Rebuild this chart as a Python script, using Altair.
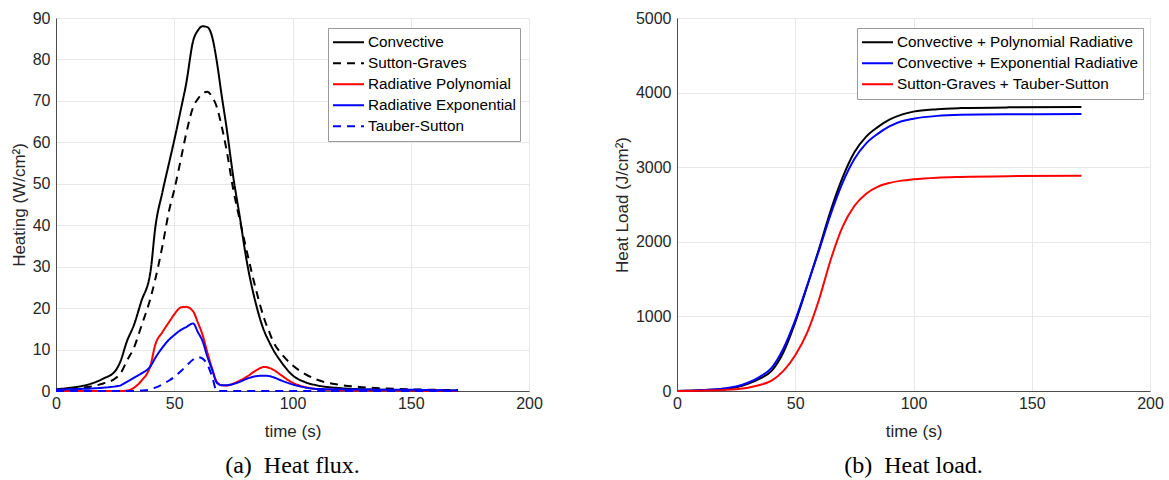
import altair as alt
import pandas as pd

# ---------------- data ----------------
t_flux = [0, 5, 10, 15, 20, 25, 27, 30, 33, 36, 40, 42, 45, 48, 50, 53, 55, 58, 60, 62, 64,
          66, 68, 70, 72, 75, 78, 80, 85, 88, 90, 92, 95, 100, 105, 110, 120, 130, 140, 150, 160, 170]
convective = [0.4, 0.7, 1.1, 1.8, 3.0, 4.8, 6.8, 12.0, 16.0, 21.5, 29.0, 39.5, 48.0, 55.5, 60.5, 68.5, 74.0,
              84.5, 87.0, 88.0, 87.8, 85.5, 79.5, 71.5, 64.0, 51.5, 41.0, 33.5, 20.0, 14.5, 12.0, 9.8, 7.2,
              3.8, 2.2, 1.4, 0.7, 0.4, 0.3, 0.2, 0.15, 0.1]
sutton_graves = [0.2, 0.4, 0.7, 1.1, 1.8, 3.0, 4.0, 7.3, 10.5, 15.5, 22.5, 27.0, 35.0, 44.0, 48.5, 56.5, 62.0,
                 68.5, 70.5, 71.8, 72.2, 71.0, 68.5, 64.0, 58.5, 48.5, 40.5, 35.4, 23.5, 17.5, 14.5, 11.7, 9.2,
                 6.2, 4.2, 2.8, 1.5, 0.9, 0.6, 0.4, 0.3, 0.2]
rad_poly = [0, 0, 0, 0, 0, 0, 0, 0.1, 0.8, 2.4, 6.3, 11.2, 14.2, 16.8, 18.5, 20.2, 20.3, 19.2, 16.5, 13.5,
            9.3, 5.4, 2.2, 1.4, 1.3, 1.8, 2.6, 3.2, 5.1, 5.8, 5.6, 5.1, 3.9, 2.0, 1.0, 0.5, 0.2, 0.1, 0.1,
            0.1, 0.05, 0]
rad_exp = [0.3, 0.4, 0.5, 0.6, 0.8, 1.1, 1.3, 2.2, 3.2, 4.2, 6.0, 8.0, 10.5, 12.5, 13.5, 14.8, 15.4, 16.3,
           14.2, 12.0, 8.3, 5.2, 2.0, 1.4, 1.4, 1.7, 2.3, 2.8, 3.6, 3.7, 3.6, 3.3, 2.6, 1.6, 0.9, 0.5, 0.4,
           0.35, 0.3, 0.3, 0.2, 0.1]
tauber_sutton = [0, 0, 0, 0, 0, 0, 0, 0, 0, 0.1, 0.4, 0.8, 1.6, 2.6, 3.4, 4.9, 6.0, 7.6, 8.2, 7.8, 6.4,
                 3.5, 0, 0, 0, 0, 0, 0, 0, 0, 0, 0, 0, 0, 0, 0, 0, 0, 0, 0, 0, 0]

flux_names = ["Convective", "Sutton-Graves", "Radiative Polynomial", "Radiative Exponential", "Tauber-Sutton"]
flux_colors = ["#000000", "#000000", "#ff0000", "#0000ff", "#0000ff"]
flux_dashes = [[1, 0], [8, 6], [1, 0], [1, 0], [8, 6]]

t_load = [0, 10, 20, 25, 30, 35, 40, 45, 50, 55, 60, 65, 70, 75, 80, 85, 90, 95, 100, 110, 120, 140, 171]
load_conv_poly = [0, 10, 30, 50, 95, 165, 270, 520, 920, 1400, 1900, 2420, 2860, 3200, 3410, 3540, 3640,
                  3705, 3745, 3778, 3792, 3802, 3806]
load_conv_exp = [0, 10, 35, 60, 110, 190, 310, 570, 950, 1410, 1880, 2370, 2790, 3110, 3320, 3450, 3550,
                 3615, 3650, 3688, 3702, 3709, 3712]
load_sg_ts = [0, 5, 15, 25, 45, 80, 140, 270, 480, 780, 1220, 1760, 2200, 2480, 2645, 2740, 2790, 2820,
              2838, 2860, 2870, 2880, 2885]

load_names = ["Convective + Polynomial Radiative", "Convective + Exponential Radiative",
              "Sutton-Graves + Tauber-Sutton"]
load_colors = ["#000000", "#0000ff", "#ff0000"]

x_ticks = [0, 50, 100, 150, 200]
flux_ticks = [0, 10, 20, 30, 40, 50, 60, 70, 80, 90]
load_ticks = [0, 1000, 2000, 3000, 4000, 5000]

# ---------------- tables ----------------
rows = []
for name, vals in zip(flux_names, [convective, sutton_graves, rad_poly, rad_exp, tauber_sutton]):
    for i, (t, v) in enumerate(zip(t_flux, vals)):
        rows.append({"t": t, "v": v, "series": name, "i": i})
df_flux = pd.DataFrame(rows)

rows = []
for name, vals in zip(load_names, [load_conv_poly, load_conv_exp, load_sg_ts]):
    for i, (t, v) in enumerate(zip(t_load, vals)):
        rows.append({"t": t, "v": v, "series": name, "i": i})
df_load = pd.DataFrame(rows)

FONT = "Liberation Sans"
W, H = 473, 373


def legend(x, y):
    return alt.Legend(
        title=None, orient="none", legendX=x, legendY=y,
        symbolType="stroke", symbolSize=961, symbolStrokeWidth=2,
        labelFont=FONT, labelFontSize=15.3, labelColor="#000000", labelOffset=3,
        clipHeight=20.3, rowPadding=0, padding=4,
        strokeColor="#9a9a9a", fillColor="#ffffff", labelLimit=400,
    )


def caption(text):
    return alt.TitleParams(text, orient="bottom", anchor="middle", frame="group",
                           font="Liberation Serif", fontSize=24, fontWeight="normal",
                           color="#000000", offset=15)


def x_enc():
    return alt.X("t:Q", scale=alt.Scale(domain=[0, 200], nice=False, zero=False, padding=0),
                 axis=alt.Axis(values=x_ticks, title="time (s)", format="d"))


left = alt.Chart(df_flux).mark_line(strokeWidth=2, interpolate="monotone").encode(
    x=x_enc(),
    y=alt.Y("v:Q", scale=alt.Scale(domain=[0, 90], nice=False, padding=0),
            axis=alt.Axis(values=flux_ticks, title="Heating (W/cm²)", format="d")),
    color=alt.Color("series:N", scale=alt.Scale(domain=flux_names, range=flux_colors),
                    legend=legend(272, 10)),
    strokeDash=alt.StrokeDash("series:N", scale=alt.Scale(domain=flux_names, range=flux_dashes),
                              legend=legend(272, 10)),
    order="i:Q",
).properties(width=W, height=H, title=caption("(a)\u00a0 Heat flux."))

right = alt.Chart(df_load).mark_line(strokeWidth=2, interpolate="monotone").encode(
    x=x_enc(),
    y=alt.Y("v:Q", scale=alt.Scale(domain=[0, 5000], nice=False, padding=0),
            axis=alt.Axis(values=load_ticks, title="Heat Load (J/cm²)", format="d")),
    color=alt.Color("series:N", scale=alt.Scale(domain=load_names, range=load_colors),
                    legend=legend(180, 10)),
    order="i:Q",
).properties(width=W, height=H, title=caption("(b)\u00a0 Heat load."))

chart = alt.hconcat(left, right, spacing=69).resolve_scale(
    x="independent", y="independent", color="independent", strokeDash="independent"
).resolve_legend(color="independent", strokeDash="independent").properties(
    padding={"left": 9, "top": 9, "right": 0, "bottom": 0},
    background="#ffffff",
).configure_view(
    stroke="#e3e3e3", strokeWidth=1
).configure_axis(
    labelFont=FONT, labelFontSize=16, labelColor="#262626",
    titleFont=FONT, titleFontSize=17, titleFontWeight="normal", titleColor="#262626",
    domainColor="#4d4d4d", domainWidth=1, ticks=False, labelFlush=False, labelOverlap=False,
    gridColor="#e8e8e8", gridWidth=1,
).configure_axisX(
    labelPadding=4, titlePadding=12,
).configure_axisY(
    labelPadding=6, titlePadding=4,
)

chart.save("out.html", embed_options={"renderer": "svg", "actions": False})
